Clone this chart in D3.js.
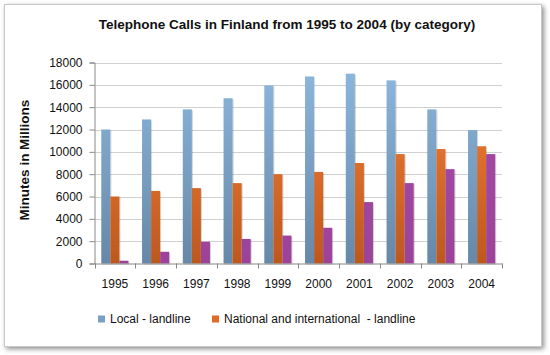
<!DOCTYPE html>
<html><head><meta charset="utf-8">
<script src="https://cdn.jsdelivr.net/npm/d3@7"></script>
<style>body{margin:0;background:#fff;}svg{display:block;font-family:"Liberation Sans",Arial,sans-serif;}</style>
</head><body>
<svg id="c" width="550" height="355"></svg>
<script>
const years = ["1995","1996","1997","1998","1999","2000","2001","2002","2003","2004"];
const local = [12000,12900,13800,14800,15950,16750,17000,16400,13800,11950];
const national = [6000,6500,6750,7200,8000,8200,9000,9800,10250,10500];
const mobiles = [250,1050,1950,2200,2500,3200,5500,7200,8450,9800];
const seriesNames = ["Local - landline","National and international \u00a0- landline","Mobiles"];
const yTicks = [0,2000,4000,6000,8000,10000,12000,14000,16000,18000];

const svg = d3.select("#c");
const defs = svg.append("defs");
const f = defs.append("filter").attr("id","sh").attr("x","-10%").attr("y","-10%").attr("width","130%").attr("height","130%");
f.append("feGaussianBlur").attr("in","SourceAlpha").attr("stdDeviation",2.5);
f.append("feOffset").attr("dx",2).attr("dy",2).attr("result","b");
f.append("feComponentTransfer").append("feFuncA").attr("type","linear").attr("slope",0.45);
const fm = f.append("feMerge"); fm.append("feMergeNode"); fm.append("feMergeNode").attr("in","SourceGraphic");

const bs = defs.append("filter").attr("id","bs").attr("x","-20%").attr("y","-5%").attr("width","160%").attr("height","110%");
bs.append("feGaussianBlur").attr("in","SourceAlpha").attr("stdDeviation",0.7);
bs.append("feOffset").attr("dx",1).attr("dy",0.5);
bs.append("feComponentTransfer").append("feFuncA").attr("type","linear").attr("slope",0.18);
const bm = bs.append("feMerge"); bm.append("feMergeNode"); bm.append("feMergeNode").attr("in","SourceGraphic");

function grad(id, top, bot){
  const g = defs.append("linearGradient").attr("id",id).attr("x1",0).attr("x2",0)
    .attr("gradientUnits","userSpaceOnUse").attr("y1",62).attr("y2",264);
  g.append("stop").attr("offset","0").attr("stop-color",top);
  g.append("stop").attr("offset","1").attr("stop-color",bot);
}
grad("gb","#8db8de","#6688a8");
grad("go","#f8823a","#bd581e");
grad("gp","#a64aa8","#9c4399");

svg.append("rect").attr("x",4.5).attr("y",4.5).attr("width",537).attr("height",342)
  .attr("fill","#fff").attr("stroke","#c8c8c8").attr("stroke-width",1).attr("filter","url(#sh)");

const x0 = 94.5, x1 = 502, yB = 263.5, yT = 62.5;
const x = d3.scaleBand().domain(years).range([x0,x1]).paddingInner(0).paddingOuter(0);
const y = d3.scaleLinear().domain([0,18000]).range([yB,yT]);
const bw = x.bandwidth()/4.5;
const xs = d3.scaleBand().domain([0,1,2]).range([bw*0.75, bw*3.75]).padding(0);

// gridlines
svg.append("g").selectAll("line").data(yTicks.slice(1)).join("line")
  .attr("x1",x0).attr("x2",x1).attr("y1",d=>Math.round(y(d))+0.5).attr("y2",d=>Math.round(y(d))+0.5)
  .attr("stroke","#d0d0d0").attr("stroke-width",1);

// y axis
const ya = svg.append("g").attr("transform",`translate(${x0},0)`)
  .call(d3.axisLeft(y).tickValues(yTicks).tickSize(5).tickPadding(7).tickFormat(d3.format("d")));
ya.select(".domain").attr("stroke","#888");
ya.selectAll(".tick line").attr("stroke","#888");
ya.selectAll("text").attr("font-size",12).attr("fill","#111").attr("font-family","'Liberation Sans',Arial,sans-serif");

// bars
const series = [local,national,mobiles];
const fills = ["url(#gb)","url(#go)","url(#gp)"];
series.forEach((vals,si)=>{
  svg.append("g").attr("filter","url(#bs)").selectAll("rect").data(vals).join("rect")
    .attr("x",(d,i)=>x(years[i])+xs(si))
    .attr("width",xs.bandwidth())
    .attr("y",d=>y(d)).attr("height",d=>yB-y(d))
    .attr("fill",fills[si]);
});

// x axis
const xa = svg.append("g").attr("transform",`translate(0,${yB})`)
  .call(d3.axisBottom(x).tickSize(0).tickPadding(16));
xa.select(".domain").attr("stroke","#888");
xa.selectAll("text").attr("font-size",12).attr("fill","#111").attr("font-family","'Liberation Sans',Arial,sans-serif");
svg.append("g").selectAll("line").data(years.concat(["end"])).join("line")
  .attr("x1",(d,i)=>Math.round(x0+i*x.bandwidth())+0.5).attr("x2",(d,i)=>Math.round(x0+i*x.bandwidth())+0.5)
  .attr("y1",yB).attr("y2",yB+5).attr("stroke","#888");

// title
svg.append("text").attr("x",287).attr("y",29).attr("text-anchor","middle")
  .attr("font-size",13.5).attr("font-weight","bold").attr("fill","#111")
  .text("Telephone Calls in Finland from 1995 to 2004 (by category)");
svg.append("text").attr("transform","translate(29,160) rotate(-90)").attr("text-anchor","middle")
  .attr("font-size",13.5).attr("font-weight","bold").attr("fill","#111")
  .text("Minutes in Millions");

// legend
const leg = [{n:seriesNames[0],c:"#7aa0c4",x:98},{n:seriesNames[1],c:"#e06a28",x:212}];
leg.forEach(l=>{
  svg.append("rect").attr("x",l.x).attr("y",315.5).attr("width",7).attr("height",7).attr("fill",l.c);
  svg.append("text").attr("x",l.x+12).attr("y",323).attr("font-size",12).attr("fill","#111").text(l.n);
});
</script>
</body></html>
